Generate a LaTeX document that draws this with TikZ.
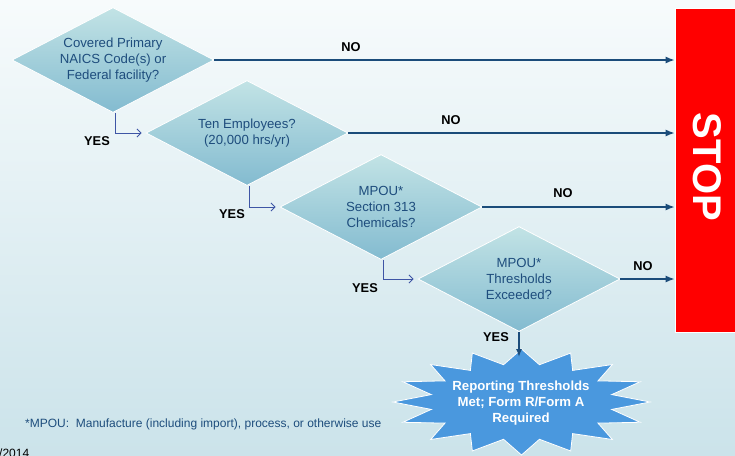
\documentclass[tikz,border=0pt]{standalone}
\usepackage{fontspec}
\setmainfont{Liberation Sans}
\usetikzlibrary{shapes.geometric,arrows.meta,calc}
\definecolor{bgtop}{HTML}{F7FBFC}
\definecolor{bgbot}{HTML}{CBE3EA}
\definecolor{dtop}{HTML}{C2E3E5}
\definecolor{dbot}{HTML}{83BBD0}
\definecolor{dtext}{HTML}{1E4D7D}
\definecolor{noline}{HTML}{1B4C7A}
\definecolor{yesline}{HTML}{3E55A5}
\definecolor{burstc}{HTML}{4A98DE}
\begin{document}
\begin{tikzpicture}[x=1pt,y=-1pt,
  decision/.style={diamond, aspect=2, inner sep=0pt, minimum width=202pt, minimum height=105pt,
    top color=dtop, bottom color=dbot, draw=white, line width=0.8pt, text=dtext,
    font=\fontsize{13.2}{16.2}\selectfont, align=center},
  noarrow/.style={draw=noline, line width=1.6pt, -{Latex[length=9pt,width=7pt]}},
  yesarrow/.style={draw=yesline, line width=0.9pt, -{Straight Barb[length=4pt,width=8pt]}},
  lbl/.style={font=\fontsize{12.8}{15}\selectfont\bfseries, text=black, inner sep=0pt}]
\useasboundingbox (0,0) rectangle (735,455);
\begin{scope}
\clip (0,0) rectangle (735,455);
\fill[top color=bgtop, bottom color=bgbot] (0,0) rectangle (735,455);

% decisions
\node[decision] (d1) at (113,60) {Covered Primary\\NAICS Code(s) or\\Federal facility?};
\node[decision] (d2) at (247,133) {Ten Employees?\\(20,000 hrs/yr)};
\node[decision] (d3) at (381,207) {MPOU*\\Section 313\\Chemicals?};
\node[decision] (d4) at (519,279) {MPOU*\\Thresholds\\Exceeded?};

% stop
\node[fill=red, draw=white, line width=0.6pt, minimum width=60pt, minimum height=324pt, inner sep=0pt] (stop) at (705,170) {};
\node[rotate=-90, text=white, font=\fontsize{40}{40}\selectfont\bfseries, inner sep=0pt] (stoptext) at (707,167) {STOP};

% NO arrows
\draw[noarrow] (d1.east) -- (d1.east -| stop.west);
\draw[noarrow] (d2.east) -- (d2.east -| stop.west);
\draw[noarrow] (d3.east) -- (d3.east -| stop.west);
\draw[noarrow] (d4.east) -- (d4.east -| stop.west);
\node[lbl] (no1) at (351,47) {NO};
\node[lbl] (no2) at (451,120) {NO};
\node[lbl] (no3) at (563,193) {NO};
\node[lbl] (no4) at (643,266) {NO};

% YES connectors
\draw[yesarrow] ([xshift=2pt]d1.south) |- ([xshift=-4pt]d2.west);
\draw[yesarrow] ([xshift=2pt]d2.south) |- ([xshift=-4pt]d3.west);
\draw[yesarrow] ([xshift=2pt]d3.south) |- ([xshift=-4pt]d4.west);
\node[lbl] (yes1) at (97,141) {YES};
\node[lbl] (yes2) at (232,214) {YES};
\node[lbl] (yes3) at (365,288) {YES};
\node[lbl] (yes4) at (496,337) {YES};

% burst
\coordinate (bc) at (521.5,402);
\fill[burstc, draw=white, line width=0.8pt] ($(bc)+(90:128.5 and 53)$)
  \foreach \i in {0,...,15}{ -- ($(bc)+({101.25+22.5*\i}:92 and 38)$) -- ($(bc)+({112.5+22.5*\i}:128.5 and 53)$) } -- cycle;
\node[text=white, font=\fontsize{13.2}{16.2}\selectfont\bfseries, align=center] (burst) at (521,403) {Reporting Thresholds\\Met; Form R/Form A\\Required};
\coordinate (btip) at (519,357);
\draw[noarrow, line width=1.3pt, -{Latex[length=8pt,width=6pt]}] (d4.south) -- (btip);

% footnote
\node[anchor=base west, text=dtext, font=\fontsize{12}{14}\selectfont, inner sep=0pt] (fn) at (25,427) {*MPOU:\ \ Manufacture (including import), process, or otherwise use};
\node[anchor=base west, font=\fontsize{12}{14}\selectfont, inner sep=0pt] (date) at (-1,457.5) {/2014};
\end{scope}
\end{tikzpicture}
\end{document}
